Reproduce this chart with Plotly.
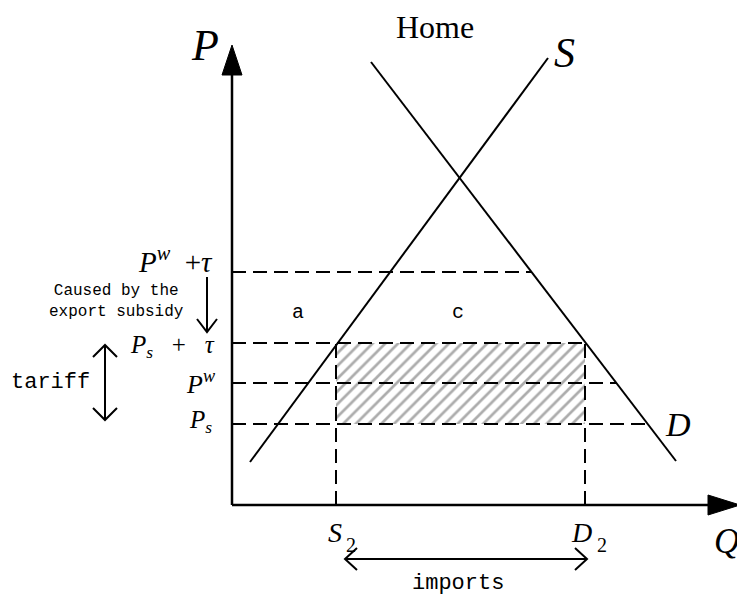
import plotly.graph_objects as go

# ---- data (chart units: quantity Q, price P) ----
P_s = 81
P_w = 122
P_s_tau = 162
P_w_tau = 233
S2 = 104
D2 = 353
supply_Q = [18, 316]
supply_P = [43, 447]
demand_Q = [139, 444]
demand_P = [443, 44]
axis_Q_end = 476
axis_Q_tip = 508
axis_P_end = 430
axis_P_tip = 460


def qd(p):
    return demand_Q[0] + (demand_P[0] - p) * (demand_Q[1] - demand_Q[0]) / (demand_P[0] - demand_P[1])


BLACK = "black"
DASH = "14px,7px"
fig = go.Figure()


def line(x, y, dash=None, width=2):
    fig.add_trace(go.Scatter(x=x, y=y, mode="lines", hoverinfo="skip",
                             line=dict(color=BLACK, width=width, dash=dash)))


def tri(x, y):
    fig.add_trace(go.Scatter(x=x, y=y, mode="lines", fill="toself", fillcolor=BLACK,
                             hoverinfo="skip", line=dict(color=BLACK, width=1)))


# hatched rectangle
fig.add_trace(go.Scatter(
    x=[S2, D2, D2, S2, S2], y=[P_s, P_s, P_s_tau, P_s_tau, P_s],
    mode="lines", fill="toself", line=dict(width=0, color="rgba(0,0,0,0)"),
    fillcolor="white",
    fillpattern=dict(shape="/", fgcolor="#5a5a5a", bgcolor="white", size=9, solidity=0.3),
    hoverinfo="skip"))

# axes
line([0, axis_Q_end], [0, 0], width=2.5)
line([0, 0], [0, axis_P_end], width=2.5)
tri([axis_Q_end, axis_Q_tip, axis_Q_end, axis_Q_end], [10, 0, -10, 10])
tri([-10, 0, 10, -10], [axis_P_end, axis_P_tip, axis_P_end, axis_P_end])

# supply & demand
line(supply_Q, supply_P)
line(demand_Q, demand_P)

# dashed price lines
line([0, qd(P_w_tau)], [P_w_tau, P_w_tau], dash=DASH)
line([0, D2], [P_s_tau, P_s_tau], dash=DASH)
line([0, qd(P_w)], [P_w, P_w], dash=DASH)
line([0, qd(P_s)], [P_s, P_s], dash=DASH)
# dashed quantity lines
line([S2, S2], [0, P_s_tau], dash=DASH)
line([D2, D2], [0, P_s_tau], dash=DASH)

# helper arrows
sub_x = -25
sub_top, sub_bot = P_w_tau - 5, P_s_tau + 11
line([sub_x, sub_x], [sub_top, sub_bot])
line([sub_x - 10, sub_x, sub_x + 10], [sub_bot + 13, sub_bot, sub_bot + 13])

tar_x = -127
tar_top, tar_bot = P_s_tau - 2, P_s + 4
line([tar_x, tar_x], [tar_top, tar_bot])
line([tar_x - 12, tar_x, tar_x + 12], [tar_top - 12, tar_top, tar_top - 12])
line([tar_x - 12, tar_x, tar_x + 12], [tar_bot + 12, tar_bot, tar_bot + 12])

imp_y = -54
imp_l, imp_r = S2 + 9, D2 + 2
line([imp_l, imp_r], [imp_y, imp_y])
line([imp_l + 12, imp_l, imp_l + 12], [imp_y + 11, imp_y, imp_y - 11])
line([imp_r - 12, imp_r, imp_r - 12], [imp_y + 11, imp_y, imp_y - 11])

SERIF = "Liberation Serif"
MONO = "Liberation Mono"


def txt(x, y, s, size, family=SERIF, xanchor="center", align="center"):
    fig.add_annotation(x=x, y=y, text=s, showarrow=False, xanchor=xanchor, yanchor="middle",
                       align=align, font=dict(family=family, size=size, color=BLACK))


txt(-27, 460, "<i>P</i>", 44)
txt(203, 478, "Home", 32)
txt(332, 452, "<i>S</i>", 42)
txt(446, 81, "<i>D</i>", 34)
txt(494, -36, "<i>Q</i>", 35)
txt(S2 - 1, -27, "<i>S</i>", 28)
txt(S2 + 15, -40, "2", 20)
txt(D2 - 4, -27, "<i>D</i>", 28)
txt(D2 + 17, -40, "2", 20)
txt(-17, 245, "<i>P</i><sup><i>w</i></sup>  +<i>τ</i>", 29, xanchor="right")
txt(-15, 159, "<i>P</i><sub><i>s</i></sub>   +   <i>τ</i>", 25, xanchor="right")
txt(-15, 123, "<i>P</i><sup><i>w</i></sup>", 26, xanchor="right")
txt(-18, 84, "<i>P</i><sub><i>s</i></sub>", 25, xanchor="right")
txt(-116, 204, "Caused by the<br>export subsidy", 16, family=MONO)
txt(-182, 123, "tariff", 22, family=MONO)
txt(226, -78, "imports", 22, family=MONO)
txt(66, 193, "a", 20, family=MONO)
txt(226, 193, "c", 20, family=MONO)

# the page body has an 8px margin, so the plot spans 737x588 px starting at (8, 8)
fig.update_layout(
    width=737, height=588, margin=dict(l=0, r=0, t=0, b=0),
    paper_bgcolor="white", plot_bgcolor="white", showlegend=False,
    xaxis=dict(range=[-224, 513], visible=False, fixedrange=True),
    yaxis=dict(range=[-91, 497], visible=False, fixedrange=True),
)
fig.write_html("out.html")
